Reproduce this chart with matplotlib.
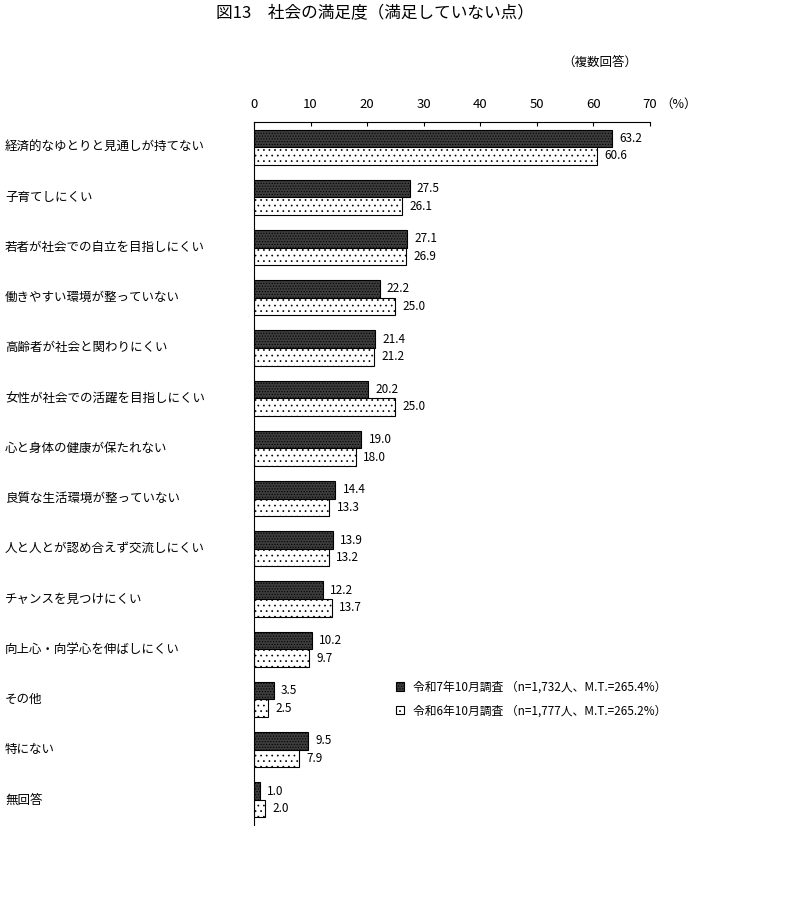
import numpy as np
import matplotlib.pyplot as plt
import matplotlib.transforms as mtransforms
from matplotlib.patches import Patch

plt.rcParams['font.family'] = ['Noto Sans CJK JP', 'DejaVu Sans']
plt.rcParams['hatch.linewidth'] = 0.5

# 項目
categories = ['経済的なゆとりと見通しが持てない', '子育てしにくい', '若者が社会での自立を目指しにくい',
              '働きやすい環境が整っていない', '高齢者が社会と関わりにくい', '女性が社会での活躍を目指しにくい',
              '心と身体の健康が保たれない', '良質な生活環境が整っていない', '人と人とが認め合えず交流しにくい',
              'チャンスを見つけにくい', '向上心・向学心を伸ばしにくい', 'その他', '特にない', '無回答']
r7 = [63.2, 27.5, 27.1, 22.2, 21.4, 20.2, 19.0, 14.4, 13.9, 12.2, 10.2, 3.5, 9.5, 1.0]
r6 = [60.6, 26.1, 26.9, 25.0, 21.2, 25.0, 18.0, 13.3, 13.2, 13.7, 9.7, 2.5, 7.9, 2.0]
labels = ['令和7年10月調査 （n=1,732人、M.T.=265.4%）', '令和6年10月調査 （n=1,777人、M.T.=265.2%）']
xticks = [0, 10, 20, 30, 40, 50, 60, 70]

fig = plt.figure(figsize=(7.94, 8.98), dpi=100)
ax = fig.add_axes([254/794, 1-825/898, 396/794, 703/898])

y = np.arange(len(categories))
h = 0.35
ax.barh(y - h/2, r7, height=h, color='#3c3c3c', edgecolor='black', linewidth=0.8, hatch='......')
ax.barh(y + h/2, r6, height=h, color='white', edgecolor='black', linewidth=0.8, hatch='...')

ax.set_xlim(0, 70)
ax.set_ylim(len(categories) - 0.5, -0.5)

# 左端のラベルは図の座標 x, データの y
trans = mtransforms.blended_transform_factory(fig.transFigure, ax.transData)
for i in range(len(categories)):
    ax.text(r7[i] + 1.3, y[i] - h/2, '%.1f' % r7[i], va='center', ha='left', fontsize=8.5)
    ax.text(r6[i] + 1.3, y[i] + h/2, '%.1f' % r6[i], va='center', ha='left', fontsize=8.5)
    ax.text(5/794, y[i], categories[i], transform=trans, va='center', ha='left', fontsize=9)

ax.set_xticks(xticks)
ax.xaxis.tick_top()
ax.tick_params(axis='x', direction='in', length=3, labelsize=9.5, pad=8)
ax.set_yticks([])
ax.spines['right'].set_visible(False)
ax.spines['bottom'].set_visible(False)

fig.text(679/794, 1-104/898, '（%）', fontsize=9, va='center', ha='center')
fig.text(600/794, 1-62/898, '（複数回答）', fontsize=9, va='center', ha='center')
fig.text(375/794, 1-14/898, '図13　社会の満足度（満足していない点）', fontsize=12, va='center', ha='center')

handles = [Patch(facecolor='#3c3c3c', edgecolor='black', hatch='......', linewidth=0.8),
           Patch(facecolor='white', edgecolor='black', hatch='...', linewidth=0.8)]
fig.legend(handles, labels, loc='center left', bbox_to_anchor=(385/794, 1-699/898),
           frameon=False, fontsize=8.5, handlelength=0.7, handleheight=0.7,
           handletextpad=0.8, labelspacing=0.9)

fig.savefig('out.png', dpi=100)
